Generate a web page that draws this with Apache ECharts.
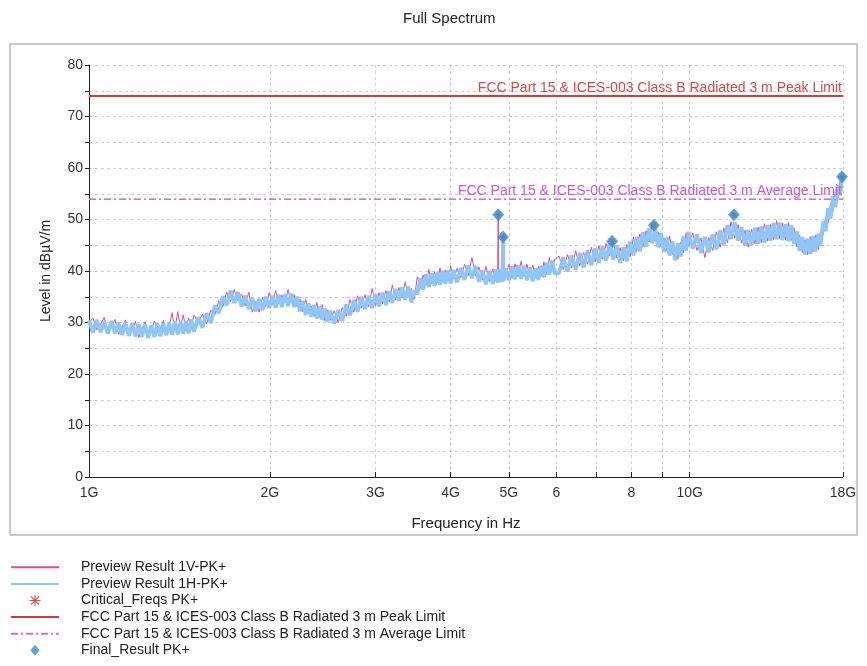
<!DOCTYPE html>
<html><head><meta charset="utf-8">
<script src="https://cdn.jsdelivr.net/npm/echarts@6/dist/echarts.min.js"></script>
<style>html,body{margin:0;padding:0;background:#fff}#c{width:867px;height:666px}</style>
</head><body><div id="c"></div>
<script>
// ---- data (frequency in GHz, level in dBµV/m) ----
const freqGHz = [
1.000,1.015,1.030,1.045,1.060,1.075,1.090,1.105,1.120,1.135,1.150,1.165,1.180,1.195,1.210,1.225,1.240,1.255,1.270,1.285,1.300,1.315,1.330,1.345,1.360,1.375,1.390,1.405,1.420,1.435,1.450,1.465,1.480,1.495,
1.520,1.545,1.570,1.595,1.620,1.645,1.670,1.695,1.720,1.745,1.770,1.795,1.820,1.845,1.870,1.895,1.920,1.945,1.970,1.995,2.020,2.045,2.070,2.095,2.120,2.145,2.170,2.195,2.220,2.245,2.270,2.295,2.320,2.345,2.370,2.395,2.420,2.445,2.470,2.495,
2.52,2.56,2.60,2.64,2.68,2.72,2.76,2.80,2.84,2.88,2.92,2.96,3.00,3.04,3.08,3.12,3.16,3.20,3.24,3.28,3.32,3.36,3.40,3.44,3.48,3.52,3.56,3.60,3.64,3.68,3.72,3.76,3.80,3.84,3.88,3.92,3.96,4.00,
4.04,4.10,4.16,4.22,4.28,4.34,4.40,4.46,4.52,4.58,4.64,4.70,4.76,4.79,4.80,4.81,4.84,4.88,4.89,4.90,4.94,5.00,5.06,5.12,5.18,5.24,5.30,5.36,5.42,5.48,5.54,5.60,5.66,5.72,5.78,5.84,5.90,5.96,
6.06,6.16,6.26,6.36,6.46,6.56,6.66,6.76,6.86,6.96,7.06,7.16,7.26,7.36,7.46,7.56,7.66,7.76,7.86,7.96,8.06,8.16,8.26,8.36,8.46,8.56,8.66,8.76,8.86,8.96,9.06,9.16,9.26,9.36,9.46,9.56,9.66,9.76,9.86,9.96,
10.12,10.28,10.44,10.60,10.76,10.92,11.08,11.24,11.40,11.56,11.72,11.88,12.04,12.20,12.36,12.52,12.68,12.84,13.00,13.16,13.32,13.48,13.64,13.80,13.96,14.12,14.28,14.44,14.60,14.76,14.92,15.08,15.24,15.40,15.56,15.72,15.88,16.04,16.20,16.36,16.52,16.68,16.84,17.00,17.16,17.32,17.48,17.64,17.80,17.96,18.00
];
const preview1H = [
30.4,28.0,30.5,28.1,30.2,27.8,30.3,27.9,30.0,27.6,29.9,27.4,29.8,27.3,29.7,27.2,29.7,27.0,29.5,27.2,29.8,27.3,29.8,27.5,30.0,27.6,30.2,27.7,30.1,27.8,30.3,27.9,30.6,28.2,
31.0,29.0,31.8,29.9,33.3,31.8,35.1,33.3,36.2,33.8,35.9,33.1,35.2,32.6,34.8,32.2,34.6,32.4,35.0,32.8,35.2,32.9,35.4,33.0,35.5,33.2,35.6,33.0,35.0,32.2,34.2,31.5,33.7,31.1,33.4,30.8,33.1,30.5,32.7,30.1,
32.3,29.8,32.4,30.3,33.5,31.4,34.4,32.1,35.0,32.6,35.2,32.8,35.5,33.1,35.8,33.4,36.1,33.8,36.5,34.2,36.8,34.4,37.0,33.9,36.2,35.5,38.6,36.4,39.4,36.9,39.6,37.1,39.7,37.3,40.0,37.5,40.1,37.6,
40.2,37.8,40.6,38.3,41.1,38.6,41.0,37.9,40.1,37.4,40.0,37.5,40.3,37.7,40.2,37.8,40.3,37.9,46.6,38.1,40.5,38.2,40.9,38.4,41.1,38.5,41.0,38.2,40.7,38.0,40.5,38.3,41.0,38.8,41.6,39.3,42.0,39.5,
39.6,42.6,39.9,43.0,40.3,43.5,40.7,44.0,41.1,44.4,41.6,44.8,42.0,45.4,42.2,45.0,41.6,44.6,41.9,45.7,43.0,46.6,43.8,47.5,44.7,48.3,45.4,48.4,44.6,47.4,43.7,46.6,43.0,45.7,42.1,45.4,42.8,46.7,44.0,47.6,
44.3,47.1,43.5,46.6,43.6,47.1,44.2,47.9,45.0,48.9,46.2,49.5,45.9,48.5,44.9,48.0,45.0,48.4,45.3,48.6,45.5,48.9,45.9,49.3,46.2,49.4,46.0,49.1,45.8,48.9,45.2,47.7,43.9,46.6,43.2,46.3,43.3,46.8,43.8,47.2,44.9,49.6,47.7,52.2,50.2,54.5,52.4,56.7,54.7,58.5,57.2
];
const preview1V = [
29.8,30.9,28.6,29.6,31.0,28.0,29.4,30.6,27.7,29.1,30.5,27.5,28.4,30.2,27.1,28.8,30.1,27.4,28.6,30.3,27.9,29.0,30.4,28.1,29.2,31.9,28.5,32.1,29.0,31.5,28.9,30.9,29.3,31.4,
30.2,31.6,29.7,32.4,31.5,34.2,33.0,35.9,34.0,36.4,34.2,35.5,33.2,35.9,32.0,34.1,32.0,34.9,33.1,35.8,33.5,36.2,33.6,35.3,33.8,36.4,33.9,35.4,33.1,34.6,32.1,34.5,31.8,33.2,31.2,33.9,31.0,33.5,30.3,32.4,
30.4,32.3,30.0,32.9,31.2,34.5,32.0,35.2,32.8,35.4,33.0,36.6,33.3,35.8,33.6,36.2,34.0,37.3,34.4,36.8,34.8,37.9,35.1,36.6,34.5,38.9,36.6,39.2,37.2,40.3,37.5,39.9,37.7,40.6,37.9,40.2,38.0,41.0,
38.4,40.5,38.7,41.3,39.1,42.6,39.0,40.8,38.2,40.9,38.0,40.4,38.3,40.1,50.9,39.8,38.4,40.5,38.6,40.2,38.7,41.3,38.6,41.4,38.9,41.9,39.0,41.3,38.9,41.2,38.7,40.9,39.0,41.8,39.4,42.6,39.9,42.2,
42.9,40.3,43.2,40.6,43.9,41.0,43.6,41.3,44.6,41.8,44.9,42.3,45.4,42.9,45.6,42.6,44.5,42.0,45.2,42.8,46.6,43.8,47.2,44.7,47.8,45.6,49.2,45.8,47.6,44.7,46.4,43.9,46.8,43.2,44.6,42.3,45.6,43.5,47.4,44.8,
47.4,44.0,46.4,42.6,46.5,44.0,47.6,44.6,48.3,45.5,49.6,46.4,49.0,45.4,47.9,44.6,48.1,45.3,48.5,45.5,49.2,45.8,49.0,46.1,49.8,46.3,49.3,46.0,49.4,45.9,48.4,44.7,47.0,43.6,46.1,43.2,46.7,43.7,47.0,44.2,47.8,47.0,50.5,49.3,53.2,51.6,55.6,53.8,57.6,56.4,58.6
];
const finalFreqs = [4.80, 4.89, 7.43, 8.72, 11.85, 17.93];
const finalLevels = [50.9, 46.6, 45.8, 48.9, 50.9, 58.3];
const criticalFreqs = [4.80, 4.89, 7.43, 8.72, 11.85, 17.93];
const criticalLevels = [50.9, 46.6, 45.8, 48.9, 50.9, 58.3];
const limitFreqs = [1, 18];
const peakLimit = [74, 74];
const avgLimit = [54, 54];
const xTickValues = [1, 2, 3, 4, 5, 6, 7, 8, 9, 10, 18];
const xLabelValues = [1, 2, 3, 4, 5, 6, 8, 10, 18];
const xLabelTexts = ['1G', '2G', '3G', '4G', '5G', '6', '8', '10G', '18G'];

const names = {
  v: 'Preview Result 1V-PK+',
  h: 'Preview Result 1H-PK+',
  crit: 'Critical_Freqs PK+',
  peak: 'FCC Part 15 & ICES-003 Class B Radiated 3 m Peak Limit',
  avg: 'FCC Part 15 & ICES-003 Class B Radiated 3 m Average Limit',
  fin: 'Final_Result PK+'
};

function zip(xs, ys) { return xs.map((x, i) => [x, ys[i]]); }

const FONT = '"Liberation Sans", Arial, sans-serif';
const chart = echarts.init(document.getElementById('c'), null, {renderer: 'canvas'});
const asterisk = 'path://M4.5,0L5.5,0L5.5,10L4.5,10ZM0,4.5L10,4.5L10,5.5L0,5.5ZM1,1.7L1.7,1L9,8.3L8.3,9ZM8.3,1L9,1.7L1.7,9L1,8.3Z';
const diamondIcon = 'path://M5,0L10,6L5,12L0,6Z';
const hideSym = {opacity: 0};

chart.setOption({
  animation: false,
  backgroundColor: '#ffffff',
  textStyle: {fontFamily: FONT},
  title: {
    text: 'Full Spectrum', left: 398, top: 6,
    textStyle: {fontFamily: FONT, fontSize: 15, fontWeight: 'normal', color: '#222'}
  },
  graphic: [{
    type: 'rect', silent: true, z: -1,
    shape: {x: 10, y: 44, width: 847, height: 491},
    style: {fill: 'none', stroke: '#b9b9b9', lineWidth: 1.5}
  }],
  grid: {left: 89, right: 24, top: 65, bottom: 189, containLabel: false},
  legend: {
    orient: 'vertical', left: 10, top: 559, padding: 0, height: 108,
    itemWidth: 48, itemHeight: 11, itemGap: 0,
    textStyle: {fontFamily: FONT, fontSize: 14, color: '#222', lineHeight: 16.6, padding: [0, 0, 0, 17]},
    data: [
      {name: names.v, itemStyle: hideSym},
      {name: names.h, itemStyle: hideSym},
      {name: names.crit, icon: asterisk, itemStyle: {color: '#d02020'}},
      {name: names.peak, itemStyle: hideSym},
      {name: names.avg, itemStyle: hideSym},
      {name: names.fin, icon: diamondIcon}
    ]
  },
  xAxis: {
    type: 'log', logBase: 10, min: 1, max: 18,
    name: 'Frequency in Hz', nameLocation: 'middle', nameGap: 39,
    nameTextStyle: {fontFamily: FONT, fontSize: 15, color: '#222'},
    axisLine: {lineStyle: {color: '#222', width: 1}},
    axisTick: {show: true, inside: true, length: 5, customValues: xTickValues, lineStyle: {color: '#222'}},
    axisLabel: {
      customValues: xLabelValues, margin: 9,
      fontFamily: FONT, fontSize: 14, color: '#333',
      formatter: v => { const i = xLabelValues.findIndex(u => Math.abs(u - v) < 1e-6); return i >= 0 ? xLabelTexts[i] : ''; }
    },
    splitLine: {show: true, lineStyle: {color: '#cfcfcf', type: [3, 3], width: 1}},
    minorTick: {show: false}
  },
  yAxis: {
    type: 'value', min: 0, max: 80, interval: 5,
    name: 'Level in dBµV/m', nameLocation: 'middle', nameGap: 36,
    nameTextStyle: {fontFamily: FONT, fontSize: 14, color: '#222'},
    axisLine: {show: true, lineStyle: {color: '#222', width: 1}},
    axisTick: {show: true, length: 4, lineStyle: {color: '#222'}},
    axisLabel: {
      margin: 6, fontFamily: FONT, fontSize: 14, color: '#333',
      formatter: v => (v % 10 === 0 ? String(v) : '')
    },
    splitLine: {show: true, lineStyle: {color: '#cfcfcf', type: [3, 3], width: 1}}
  },
  series: [
    {
      name: names.v, type: 'line', data: zip(freqGHz, preview1V),
      symbol: 'none', z: 3, lineStyle: {color: '#e0508a', width: 1}, itemStyle: {color: '#e0508a'}
    },
    {
      name: names.h, type: 'line', data: zip(freqGHz, preview1H),
      symbol: 'none', z: 4, lineStyle: {color: '#8ec6f7', width: 3.8}, itemStyle: {color: '#8ec6f7'}
    },
    {
      name: names.crit, type: 'scatter', data: zip(criticalFreqs, criticalLevels),
      symbol: asterisk, symbolSize: 8, z: 5, itemStyle: {color: '#d02020'}
    },
    {
      name: names.peak, type: 'line', data: zip(limitFreqs, peakLimit),
      symbol: 'none', z: 2, lineStyle: {color: '#d63a3a', width: 2}, itemStyle: {color: '#d63a3a'},
      markLine: {
        silent: true, symbol: 'none', lineStyle: {color: '#d63a3a', width: 2, type: 'solid'},
        label: {show: true, position: 'insideEndTop', distance: 1, formatter: names.peak, color: '#d04a4a', fontFamily: FONT, fontSize: 14},
        data: [{yAxis: peakLimit[0]}]
      }
    },
    {
      name: names.avg, type: 'line', data: zip(limitFreqs, avgLimit),
      symbol: 'none', z: 2, lineStyle: {color: '#d070d8', width: 1, type: [7, 3, 2, 3]}, itemStyle: {color: '#d070d8'},
      markLine: {
        silent: true, symbol: 'none', lineStyle: {color: '#d070d8', width: 1, type: [7, 3, 2, 3]},
        label: {show: true, position: 'insideEndTop', distance: 1, formatter: names.avg, color: '#cc55d0', fontFamily: FONT, fontSize: 14},
        data: [{yAxis: avgLimit[0]}]
      }
    },
    {
      name: names.fin, type: 'scatter', data: zip(finalFreqs, finalLevels),
      symbol: 'diamond', symbolSize: [12, 13], z: 6, itemStyle: {color: '#3a8dd0'}
    }
  ]
});
</script>
</body></html>
